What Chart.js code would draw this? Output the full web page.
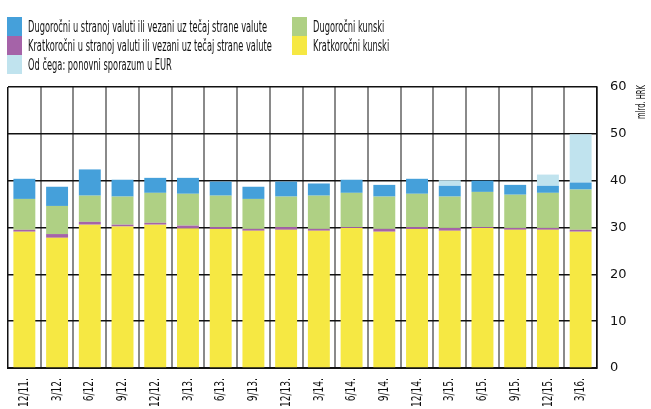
<!DOCTYPE html>
<html>
<head>
<meta charset="utf-8">
<script src="https://cdn.jsdelivr.net/npm/chart.js@4"></script>
<style>
  body { margin: 0; background: #fff; }
  #wrap { position: relative; width: 651px; height: 409px; }
  .cond { font-family: "DejaVu Sans", sans-serif; color: #111; }
  #legend { position: absolute; left: 7px; top: 17px; font-size: 15px; }
  .item { position: absolute; height: 19px; line-height: 19px; white-space: nowrap; }
  .item span.box { position: absolute; left: 0; top: 0; width: 15px; height: 19px; }
  .item span.txt { position: absolute; left: 21px; top: 1px; transform-origin: 0 50%; }
  #unit { position: absolute; left: 634px; top: 119px; transform-origin: 0 0;
          font-size: 12px; white-space: nowrap; }
</style>
</head>
<body>
<div id="wrap">
  <canvas id="chart" width="651" height="409"></canvas>
  <div id="legend" class="cond"></div>
  <div id="unit" class="cond">mlrd. HRK</div>
</div>
<script>
// quarters
const labels = ['12/11.', '3/12.', '6/12.', '9/12.', '12/12.', '3/13.', '6/13.', '9/13.', '12/13.',
  '3/14.', '6/14.', '9/14.', '12/14.', '3/15.', '6/15.', '9/15.', '12/15.', '3/16.'];

// values in mlrd. HRK
const kratkorocniKunski = [29.1, 27.8, 30.6, 30.2, 30.6, 29.8, 29.7, 29.3, 29.5, 29.3, 29.9, 29.1, 29.7, 29.3, 29.9, 29.5, 29.5, 29.1];
const kratkorocniDevizni = [0.4, 0.8, 0.6, 0.4, 0.4, 0.6, 0.4, 0.4, 0.6, 0.4, 0.2, 0.6, 0.4, 0.6, 0.2, 0.4, 0.4, 0.4];
const dugorocniKunski = [6.6, 6.0, 5.6, 6.0, 6.4, 6.8, 6.7, 6.4, 6.5, 7.1, 7.3, 6.9, 7.1, 6.7, 7.5, 7.1, 7.5, 8.6];
const dugorocniDevizni = [4.3, 4.1, 5.6, 3.6, 3.2, 3.4, 3.0, 2.6, 3.2, 2.6, 2.8, 2.5, 3.2, 2.3, 2.4, 2.1, 1.5, 1.5];
const repoEUR = [0, 0, 0, 0, 0, 0, 0, 0, 0, 0, 0, 0, 0, 1.2, 0, 0, 2.4, 10.3];

const yTicks = [0, 10, 20, 30, 40, 50, 60];

const colors = {
  yellow: '#f6e843',
  purple: '#a563a8',
  green: '#afd084',
  blue: '#45a0da',
  light: '#c0e3ee'
};

// legend, two columns
const legendItems = [
  { text: 'Dugoročni u stranoj valuti ili vezani uz tečaj strane valute', color: colors.blue, x: 0, y: 0 },
  { text: 'Kratkoročni u stranoj valuti ili vezani uz tečaj strane valute', color: colors.purple, x: 0, y: 19 },
  { text: 'Od čega: ponovni sporazum u EUR', color: colors.light, x: 0, y: 38 },
  { text: 'Dugoročni kunski', color: colors.green, x: 285, y: 0 },
  { text: 'Kratkoročni kunski', color: colors.yellow, x: 285, y: 19 }
];
const legendEl = document.getElementById('legend');
const spans = [];
legendItems.forEach(it => {
  const d = document.createElement('div');
  d.className = 'item';
  d.style.left = it.x + 'px';
  d.style.top = it.y + 'px';
  d.innerHTML = '<span class="box" style="background:' + it.color + '"></span><span class="txt">' + it.text + '</span>';
  legendEl.appendChild(d);
  spans.push(d.querySelector('.txt'));
});
// squeeze legend text to a narrow face
const firstW = spans[0].getBoundingClientRect().width;
const squeeze = Math.min(1, 239 / firstW);
spans.forEach(s => { s.style.transform = 'scaleX(' + squeeze + ')'; });

const unitEl = document.getElementById('unit');
const unitW = unitEl.getBoundingClientRect().width;
unitEl.style.transform = 'rotate(-90deg) scaleX(' + Math.min(1, 34 / unitW) + ')';

const fontFamily = '"DejaVu Sans", sans-serif';

// narrow rotated quarter labels under the axis
const quarterLabels = {
  id: 'quarterLabels',
  afterDraw(chart) {
    const ctx = chart.ctx;
    const xs = chart.scales.x;
    const top = chart.chartArea.bottom + 10;
    ctx.save();
    ctx.font = '14px ' + fontFamily;
    ctx.fillStyle = '#111';
    const k = Math.min(1, 29 / ctx.measureText('12/11.').width);
    ctx.textAlign = 'right';
    ctx.textBaseline = 'middle';
    labels.forEach((lab, i) => {
      ctx.save();
      ctx.translate(xs.getPixelForTick(i), top);
      ctx.rotate(-Math.PI / 2);
      ctx.scale(k, 1);
      ctx.fillText(lab, 0, 0);
      ctx.restore();
    });
    ctx.restore();
  }
};

function ds(label, data, color) {
  return { label: label, data: data, backgroundColor: color, borderWidth: 0,
    barPercentage: 0.67, categoryPercentage: 1, stack: 's' };
}

new Chart(document.getElementById('chart'), {
  type: 'bar',
  data: {
    labels: labels,
    datasets: [
      ds('Kratkoročni kunski', kratkorocniKunski, colors.yellow),
      ds('Kratkoročni u stranoj valuti ili vezani uz tečaj strane valute', kratkorocniDevizni, colors.purple),
      ds('Dugoročni kunski', dugorocniKunski, colors.green),
      ds('Dugoročni u stranoj valuti ili vezani uz tečaj strane valute', dugorocniDevizni, colors.blue),
      ds('Od čega: ponovni sporazum u EUR', repoEUR, colors.light)
    ]
  },
  plugins: [quarterLabels],
  options: {
    responsive: false,
    animation: false,
    layout: { padding: { left: 8, top: 87, right: 0, bottom: 0 } },
    plugins: { legend: { display: false }, tooltip: { enabled: false } },
    scales: {
      x: {
        stacked: true,
        offset: true,
        grid: {
          offset: true,
          drawTicks: false,
          color: ctx => ctx.index === 0 ? '#111' : '#8a8a8a',
          lineWidth: ctx => ctx.index === 0 ? 1.5 : 2
        },
        border: { color: '#111', width: 2 },
        ticks: { display: false },
        afterFit: s => { s.height = 41; }
      },
      y: {
        stacked: true,
        position: 'right',
        min: 0,
        max: 60,
        afterBuildTicks: s => { s.ticks = yTicks.map(v => ({ value: v })); },
        grid: { color: '#111', lineWidth: 1.4, drawTicks: false },
        border: { color: '#111', width: 1.5 },
        ticks: { font: { family: fontFamily, size: 13 }, color: '#111', padding: 13 },
        afterFit: s => { s.width = 54; }
      }
    }
  }
});
</script>
</body>
</html>
